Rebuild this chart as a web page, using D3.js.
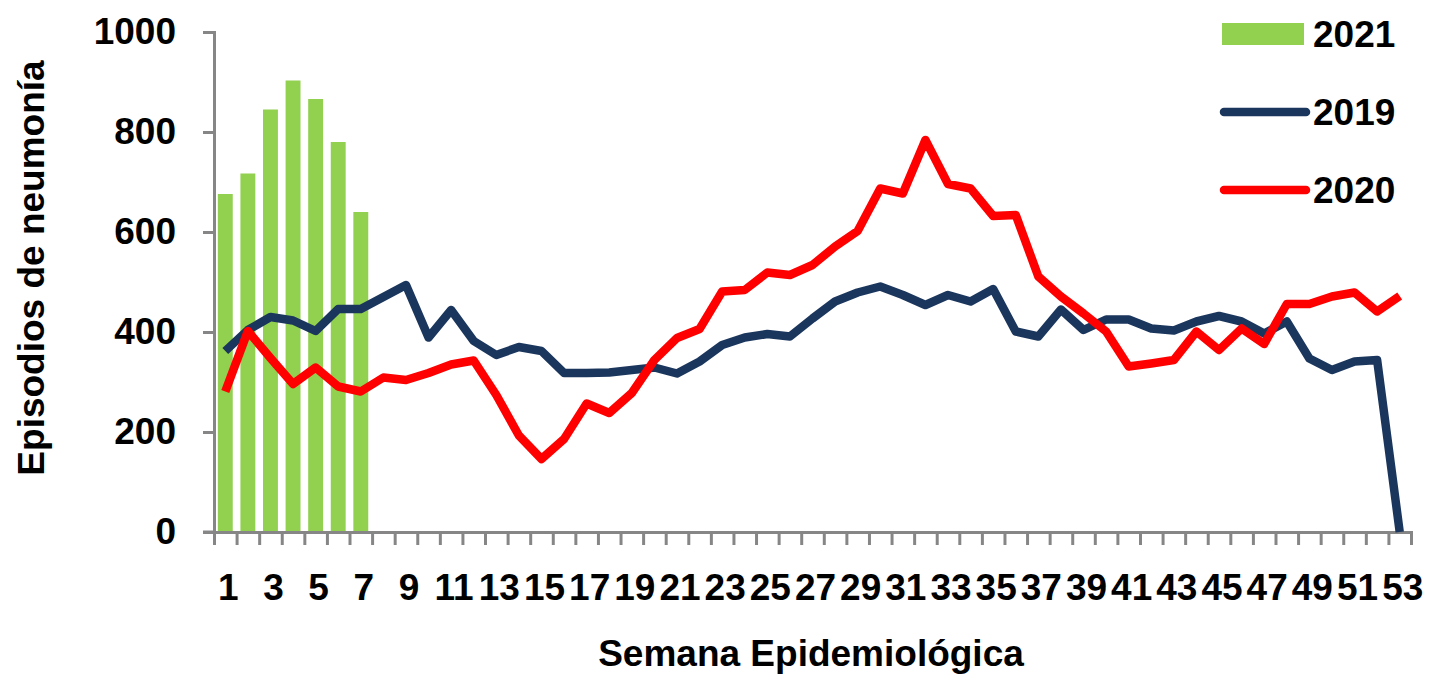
<!DOCTYPE html>
<html>
<head>
<meta charset="utf-8">
<script src="https://cdn.jsdelivr.net/npm/d3@7"></script>
<style>
  body { margin: 0; background: #fff; }
  svg text { font-family: "Liberation Sans", Arial, sans-serif; font-weight: bold; fill: #000; }
</style>
</head>
<body>
<svg id="chart" width="1429" height="675"></svg>
<script>
const weeks = d3.range(1, 54);
const cases2021 = [676, 717, 845, 903, 866, 780, 640];
const cases2019 = [362, 404, 430, 423, 402, 446, 446, 470, 494, 389,
                   444, 382, 354, 370, 362, 318, 318, 319, 324, 329,
                   317, 341, 374, 389, 396, 391, 427, 461, 479, 491,
                   474, 454, 474, 461, 486, 401, 391, 445, 404, 425,
                   425, 407, 403, 421, 432, 421, 397, 421, 347, 324,
                   341, 344, 0];
const cases2020 = [281, 402, 348, 296, 329, 291, 281, 309, 304, 318,
                   335, 343, 274, 193, 146, 186, 257, 238, 278, 344,
                   388, 406, 481, 484, 519, 514, 534, 571, 602, 687,
                   677, 784, 696, 687, 632, 634, 511, 471, 437, 401,
                   331, 337, 344, 401, 364, 407, 376, 456, 456, 471,
                   479, 441, 472];
const yTicks = [0, 200, 400, 600, 800, 1000];
const xLabels = weeks.filter(w => w % 2 === 1);

const svg = d3.select("#chart");
const plotLeft = 214, plotRight = 1411, plotTop = 32, plotBottom = 532;
const axisColor = "#868686";
const fontSize = 37;

const x = d3.scaleBand().domain(weeks).range([plotLeft, plotRight]).paddingInner(0.34).paddingOuter(0.17);
const xEdge = d3.scaleLinear().domain([0.5, 53.5]).range([plotLeft, plotRight]);
const y = d3.scaleLinear().domain([0, 1000]).range([plotBottom, plotTop]);
const cx = w => x(w) + x.bandwidth() / 2;

// bars 2021
svg.append("g").selectAll("rect")
   .data(cases2021)
   .join("rect")
   .attr("x", (d, i) => x(weeks[i]))
   .attr("y", d => y(d))
   .attr("width", x.bandwidth())
   .attr("height", d => y(0) - y(d))
   .attr("fill", "#92d050");

// y axis
const yAxis = svg.append("g")
   .attr("transform", `translate(${plotLeft},0)`)
   .call(d3.axisLeft(y).tickValues(yTicks).tickFormat(d3.format("d"))
           .tickSize(11).tickSizeOuter(11).tickPadding(27));
yAxis.selectAll("path, line").attr("stroke", axisColor).attr("stroke-width", 3);
yAxis.selectAll("text").style("font-size", fontSize + "px").attr("fill", "#000");

// x axis ticks at week boundaries
const xAxis = svg.append("g")
   .attr("transform", `translate(0,${plotBottom})`)
   .call(d3.axisBottom(xEdge).tickValues(d3.range(0.5, 54, 1)).tickFormat("").tickSize(13).tickSizeOuter(13));
xAxis.selectAll("path, line").attr("stroke", axisColor).attr("stroke-width", 3);
svg.append("line")
   .attr("x1", plotLeft - 11).attr("x2", plotLeft)
   .attr("y1", plotBottom).attr("y2", plotBottom)
   .attr("stroke", axisColor).attr("stroke-width", 3);

// x labels (odd weeks)
const xLab = svg.append("g")
   .attr("transform", `translate(0,${plotBottom})`)
   .call(d3.axisBottom(x).tickValues(xLabels).tickSize(0).tickPadding(42));
xLab.select(".domain").remove();
xLab.selectAll("text").style("font-size", fontSize + "px").attr("fill", "#000").attr("dx", 3);

// lines
const line = data => d3.line().x((d, i) => cx(weeks[i])).y(d => y(d))(data);
svg.append("path")
   .attr("d", line(cases2019))
   .attr("fill", "none").attr("stroke", "#1b365d").attr("stroke-width", 8.5)
   .attr("stroke-linejoin", "round");
svg.append("path")
   .attr("d", line(cases2020))
   .attr("fill", "none").attr("stroke", "#ff0000").attr("stroke-width", 8.5)
   .attr("stroke-linejoin", "round");

// axis titles
svg.append("text")
   .attr("x", 811).attr("y", 666)
   .attr("text-anchor", "middle")
   .style("font-size", fontSize + "px")
   .text("Semana Epidemiológica");
svg.append("text")
   .attr("transform", "translate(44,268) rotate(-90)")
   .attr("text-anchor", "middle")
   .style("font-size", fontSize + "px")
   .text("Episodios de neumonía");

// legend
const legend = svg.append("g");
legend.append("rect")
   .attr("x", 1222).attr("y", 23).attr("width", 82).attr("height", 22)
   .attr("fill", "#92d050");
const legendLines = [["2019", "#1b365d", 112], ["2020", "#ff0000", 190]];
for (const [label, color, ly] of legendLines) {
  legend.append("line")
     .attr("x1", 1224).attr("x2", 1306)
     .attr("y1", ly).attr("y2", ly)
     .attr("stroke", color).attr("stroke-width", 8.5).attr("stroke-linecap", "round");
}
const legendText = [["2021", 34], ["2019", 112], ["2020", 190]];
for (const [label, ly] of legendText) {
  legend.append("text")
     .attr("x", 1313).attr("y", ly)
     .attr("dy", "0.35em")
     .style("font-size", fontSize + "px")
     .text(label);
}
</script>
</body>
</html>
